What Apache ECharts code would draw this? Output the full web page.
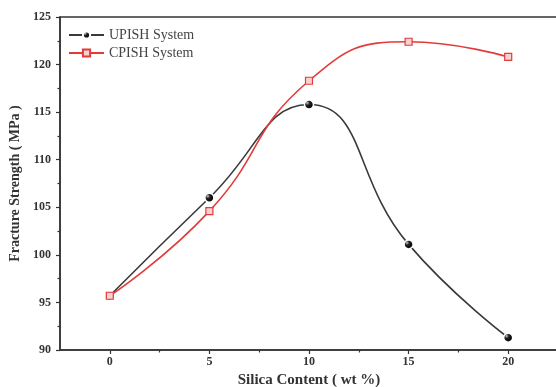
<!DOCTYPE html>
<html>
<head>
<meta charset="utf-8">
<script src="https://cdn.jsdelivr.net/npm/echarts@6/dist/echarts.min.js"></script>
<style>html,body{margin:0;padding:0;background:#fff;}#c{width:556px;height:387px;}</style>
</head>
<body>
<div id="c"></div>
<script>
var silica = [0, 5, 10, 15, 20];
var upish = [95.7, 106.0, 115.8, 101.1, 91.3];
var cpish = [95.7, 104.6, 118.3, 122.4, 120.8];
var xMajorTicks = [0, 5, 10, 15, 20];
var xMinorTicks = [2.5, 7.5, 12.5, 17.5];
var seriesNames = ['UPISH System', 'CPISH System'];

var font = 'Liberation Serif';
var axisColor = '#333';
function pairs(xs, ys){ return xs.map(function(x,i){return [x, ys[i]];}); }

var chart = echarts.init(document.getElementById('c'), null, {renderer:'canvas'});
chart.setOption({
  animation: false,
  backgroundColor: '#fff',
  grid: {left: 60, top: 17, width: 498, height: 333, containLabel: false, outerBoundsMode: 'none',
         show: true, borderColor: axisColor, borderWidth: 1.5, backgroundColor: 'transparent'},
  legend: {
    left: 63, top: 23, orient: 'vertical', itemWidth: 35, itemHeight: 9, itemGap: 4,
    textStyle: {fontFamily: font, fontSize: 14, color: '#444'},
    data: seriesNames
  },
  xAxis: [{
    type: 'value', min: -2.5, max: 22.5, position: 'bottom',
    name: 'Silica Content ( wt %)', nameLocation: 'middle', nameGap: 21,
    nameTextStyle: {fontFamily: font, fontWeight: 'bold', fontSize: 15, color: '#333'},
    axisLine: {onZero: false, lineStyle: {color: axisColor, width: 1.5}},
    axisTick: {show: true, inside: false, length: 4, customValues: xMajorTicks, lineStyle: {color: axisColor, width: 1.2}},
    axisLabel: {customValues: xMajorTicks, fontFamily: font, fontWeight: 'bold', fontSize: 12, color: '#333', margin: 6},
    splitLine: {show: false}
  }, {
    type: 'value', min: -2.5, max: 22.5, position: 'bottom',
    axisLine: {show: false, onZero: false},
    axisTick: {show: true, inside: false, length: 2.5, customValues: xMinorTicks, lineStyle: {color: axisColor, width: 1.2}},
    axisLabel: {show: false},
    splitLine: {show: false}
  }],
  yAxis: {
    type: 'value', min: 90, max: 125, interval: 5,
    name: 'Fracture Strength ( MPa )', nameLocation: 'middle', nameGap: 38, nameRotate: 90,
    nameTextStyle: {fontFamily: font, fontWeight: 'bold', fontSize: 14, color: '#333'},
    axisLine: {show: true, onZero: false, lineStyle: {color: axisColor, width: 1.5}},
    axisTick: {show: true, inside: false, length: 4, lineStyle: {color: axisColor, width: 1.2}},
    minorTick: {show: true, splitNumber: 2, length: 2.5, lineStyle: {color: axisColor, width: 1.2}},
    axisLabel: {fontFamily: font, fontWeight: 'bold', fontSize: 12, color: '#333', margin: 9},
    splitLine: {show: false}
  },
  series: [{
    name: seriesNames[0], type: 'line', smooth: 0.5,
    data: pairs(silica, upish),
    symbol: 'circle', symbolSize: 9,
    lineStyle: {color: '#3a3a3a', width: 1.6},
    itemStyle: {
      color: new echarts.graphic.RadialGradient(0.35, 0.35, 0.6, [
        {offset: 0, color: '#cfcfcf'}, {offset: 0.35, color: '#222'}, {offset: 1, color: '#000'}]),
      borderColor: '#fff', borderWidth: 1.5
    },
    z: 2
  }, {
    name: seriesNames[1], type: 'line', smooth: 0.5,
    data: pairs(silica, cpish),
    symbol: 'rect', symbolSize: 7,
    lineStyle: {color: '#e23b3b', width: 1.6},
    itemStyle: {color: '#f7d0d0', borderColor: '#e23b3b', borderWidth: 1.2},
    z: 3
  }]
});
</script>
</body>
</html>
